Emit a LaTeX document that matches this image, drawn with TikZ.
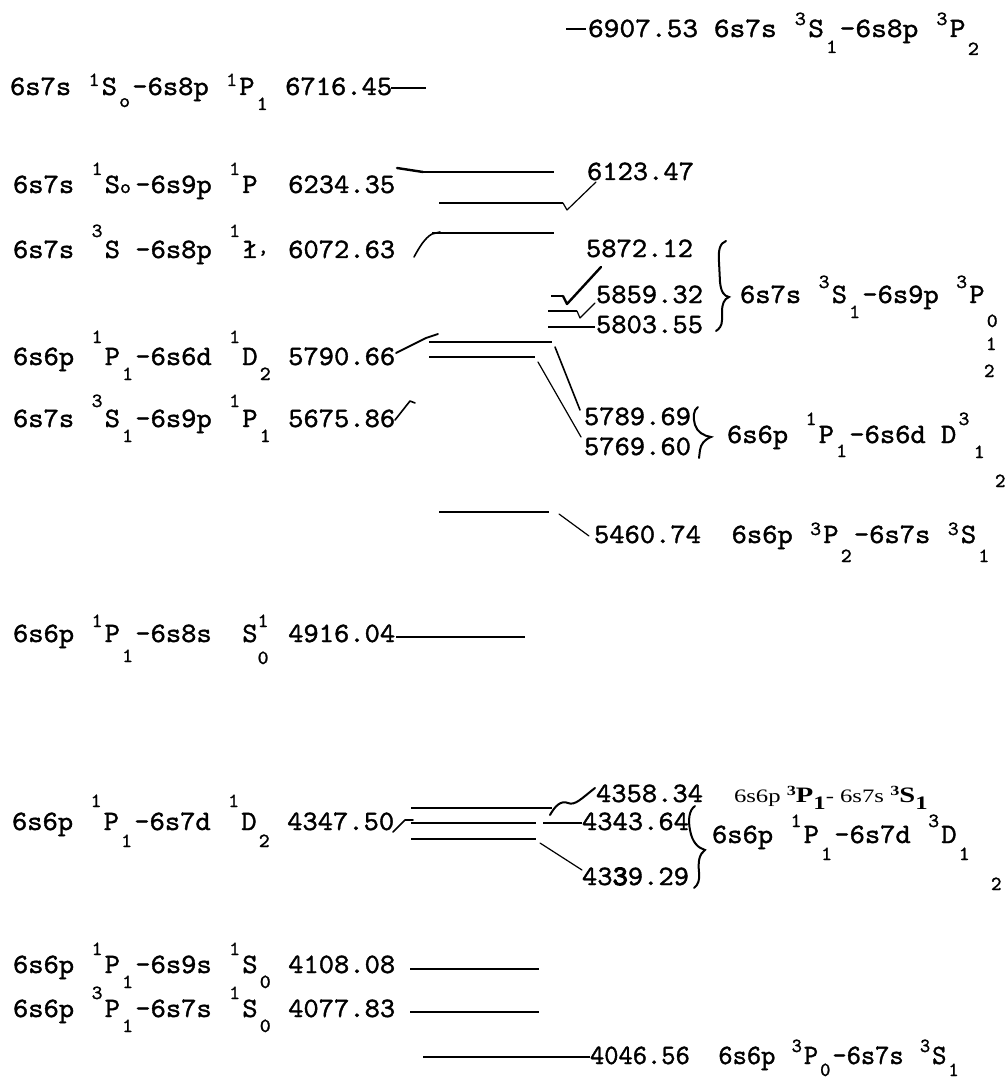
\documentclass[tikz,border=0pt]{standalone}
\usepackage{fontspec}
\usepackage{graphicx}
\newfontfamily\serf{Liberation Serif}
\newfontfamily\lmtt{lmmono10-regular}[Extension=.otf,FakeBold=1.3]
\newcommand\twf{\fontsize{28}{28}\selectfont\lmtt}
\newcommand\smf{\fontsize{20}{20}\selectfont\lmtt}
\newlength\pch \setlength\pch{14.7pt}
\newcommand\ttsup[2][18pt]{\makebox[\pch][c]{\raisebox{#1}{\smf #2}}}
\newcommand\ttsub[2][-15pt]{\makebox[\pch][c]{\raisebox{#1}{\smf #2}}}
\newcommand\ttstack[2]{\makebox[\pch][l]{\rlap{\raisebox{15pt}{\smf #1}}\raisebox{-22pt}{\smf #2}}}
\newcommand\tl[2][1.04]{\scalebox{#1}[1]{\twf #2}}
\newcommand\sfs[1]{{\fontsize{19}{19}\selectfont #1}}
\newcommand\sfb[1]{{\bfseries\fontsize{22}{22}\selectfont #1}}
\newcommand\sfp[1]{\raisebox{7pt}{\bfseries\fontsize{14}{14}\selectfont #1}}
\newcommand\sfd[1]{\raisebox{-7pt}{\bfseries\fontsize{19}{19}\selectfont #1}}
\begin{document}
\begin{tikzpicture}[x=1pt,y=-1pt,
  txt/.style={anchor=base west,inner sep=0pt,outer sep=0pt},
  lvl/.style={line width=1.5pt},
  ldr/.style={line width=1.2pt,line cap=round,line join=round},
  thk/.style={line width=2.4pt,line cap=round,line join=round},
  brc/.style={line width=2pt,line cap=round}]
\useasboundingbox (0,0) rectangle (1008,1083);

% ---------- left labels ----------
\node[txt] (A) at (588,37) {\tl[1.07]{6907.53 6s7s \ttsup[12pt]{3}S\ttsub[-16pt]{1}-6s8p \ttsup[12pt]{3}P\ttsub[-18pt]{2}}};
\node[txt] (B) at (10,95) {\tl{6s7s \ttsup[9pt]{1}S\ttsub[-12pt]{o}-6s8p \ttsup[9pt]{1}P\ttsub[-15pt]{1} 6716.45}};
\node[txt] (C) at (13,193) {\tl{6s7s \ttsup[18pt]{1}S\makebox[\pch][l]{\smf o}-6s9p \ttsup[18pt]{1}P~~6234.35}};
\node[txt] (D) at (13,258) {\tl{6s7s \ttsup[21pt]{3}S -6s8p \ttsup[21pt]{1}ł\makebox[\pch][l]{\raisebox{5pt}{\smf,}} 6072.63}};
\node[txt] (E) at (13,365) {\tl{6s6p \ttsup[22pt]{1}P\ttsub{1}-6s6d \ttsup[22pt]{1}D\ttsub{2} 5790.66}};
\node[txt] (F) at (13,427) {\tl{6s7s \ttsup[20pt]{3}S\ttsub{1}-6s9p \ttsup[20pt]{1}P\ttsub{1} 5675.86}};
\node[txt] (H) at (13,642) {\tl{6s6p \ttsup[15pt]{1}P\ttsub[-20pt]{1}-6s8s~~S\ttstack{1}{0} 4916.04}};
\node[txt] (J) at (12,830) {\tl{6s6p \ttsup[23pt]{1}P\ttsub[-17pt]{1}-6s7d \ttsup[23pt]{1}D\ttsub[-17pt]{2} 4347.50}};
\node[txt] (K) at (13,973) {\tl{6s6p \ttsup{1}P\ttsub{1}-6s9s \ttsup{1}S\ttsub{0} 4108.08}};
\node[txt] (L) at (13,1017) {\tl{6s6p \ttsup{3}P\ttsub{1}-6s7s \ttsup{1}S\ttsub{0} 4077.83}};

% ---------- right labels ----------
\node[txt] (R1) at (587,180) {\tl{6123.47}};
\node[txt] (R2) at (586,257) {\tl{5872.12}};
\node[txt] (R3) at (596,303) {\tl{5859.32}};
\node[txt] (R4) at (596,333) {\tl{5803.55}};
\node[txt] (R5) at (740,303) {\tl{6s7s \ttsup[15pt]{3}S\ttsub{1}-6s9p \ttsup[15pt]{3}P\ttsub[-24pt]{0}}};
\node[txt] (R5a) at (986,350) {\smf 1};
\node[txt] (R5b) at (984,377) {\smf 2};
\node[txt] (R6) at (584,425) {\tl{5789.69}};
\node[txt] (R7) at (584,455) {\tl{5769.60}};
\node[txt] (R8) at (727,443) {\tl{6s6p \ttsup{1}P\ttsub[-14pt]{1}-6s6d D\ttsup{3}\ttsub{1}}};
\node[txt] (R8a) at (995,487) {\smf 2};
\node[txt] (R9) at (594,543) {\tl{5460.74~~6s6p \ttsup[8pt]{3}P\ttsub[-19pt]{2}-6s7s \ttsup[8pt]{3}S\ttsub[-19pt]{1}}};
\node[txt] (R10) at (596,802) {\tl{4358.34}};
\node[txt] (R11) at (734,802) {\scalebox{1.3}[1]{\serf\sfs{6s6p }\sfp{3}\sfb{P}\sfd{1}\sfs{- 6s7s }\sfp{3}\sfb{S}\sfd{1}}};
\node[txt] (R12) at (582,830) {\tl{4343.64}};
\node[txt] (R13) at (712,843) {\tl{6s6p \ttsup[16pt]{1}P\ttsub[-17pt]{1}-6s7d \ttsup[16pt]{3}D\ttsub[-17pt]{1}}};
\node[txt] (R13a) at (991,890) {\smf 2};
\node[txt] (R14) at (582,885) {\tl{43{\addfontfeature{FakeBold=4}3}9.29}};
\node[txt] (M) at (590,1064) {\tl[0.97]{4046.56~~6s6p \ttsup[12pt]{3}P\ttsub[-12pt]{0}-6s7s \ttsup[12pt]{3}S\ttsub[-12pt]{1}}};

% ---------- level lines and leaders ----------
\draw[lvl] (566,29) -- (586,29);
\draw[lvl] (391,88) -- (426,88);
% 6234.35 / 6123.47 / 6072.63
\draw[thk] (397,168) -- (423,172);
\draw[lvl] (423,172) -- (554,172);
\draw[lvl] (439,203) -- (563,203);
\draw[ldr] (563,203) -- (567,210) -- (596,182);
\draw[lvl] (432,233) -- (554,233);
\draw[ldr,line width=1.6pt] (414,257) .. controls (420,246) and (425,238) .. (432,234) -- (440,232);
% 5859.32 group
\draw[lvl] (551,296) -- (563,296);
\draw[thk] (563,296) -- (567,304) -- (601,267);
\draw[lvl] (548,311) -- (577,311);
\draw[ldr] (577,311) -- (580,318) -- (595,303);
\draw[lvl] (548,327) -- (595,327);
\draw[brc] (726,241) .. controls (720,243) and (718,250) .. (719,262) -- (720,282)
  .. controls (721,292) and (724,296) .. (729,297)
  .. controls (724,299) and (722,304) .. (722,312) -- (722,320)
  .. controls (722,326) and (719,329) .. (716,331);
% 5790.66 / 5675.86
\draw[thk,line width=1.8pt] (396,353) -- (426,338) -- (438,334);
\draw[lvl] (429,342) -- (552,342);
\draw[ldr,line width=1.6pt] (555,347) -- (580,410);
\draw[lvl] (429,357) -- (535,357);
\draw[ldr] (538,362) -- (581,437);
\draw[ldr,line width=1.6pt] (395,420) -- (410,401) -- (415,403);
\draw[brc] (698,407) .. controls (693,410) and (693,418) .. (695,425)
  .. controls (697,432) and (704,436) .. (711,437)
  .. controls (704,440) and (701,444) .. (700,450) -- (699,458);
% 5460.74
\draw[lvl] (439,512) -- (549,512);
\draw[ldr] (559,514) -- (589,536);
% 4916.04
\draw[lvl] (396,637) -- (525,637);
% 4358 / 4343 / 4339 group
\draw[lvl] (411,808) -- (552,808);
\draw[thk,line width=2pt] (550,815) .. controls (555,806) and (561,800) .. (568,803)
  .. controls (575,806) and (582,798) .. (595,788);
\draw[ldr,line width=1.6pt] (393,832) -- (405,820) -- (413,820);
\draw[lvl] (411,823) -- (536,823);
\draw[lvl] (543,823) -- (582,823);
\draw[lvl] (411,839) -- (536,839);
\draw[ldr] (540,843) -- (582,870);
\draw[brc] (695,806) .. controls (689,810) and (688,820) .. (690,830)
  .. controls (692,842) and (698,848) .. (705,850)
  .. controls (699,854) and (698,862) .. (699,872)
  .. controls (700,880) and (698,885) .. (694,888);
% 4108 / 4077 / 4046
\draw[lvl] (410,969) -- (539,969);
\draw[lvl] (410,1012) -- (539,1012);
\draw[lvl] (423,1057) -- (590,1057);
\end{tikzpicture}
\end{document}
